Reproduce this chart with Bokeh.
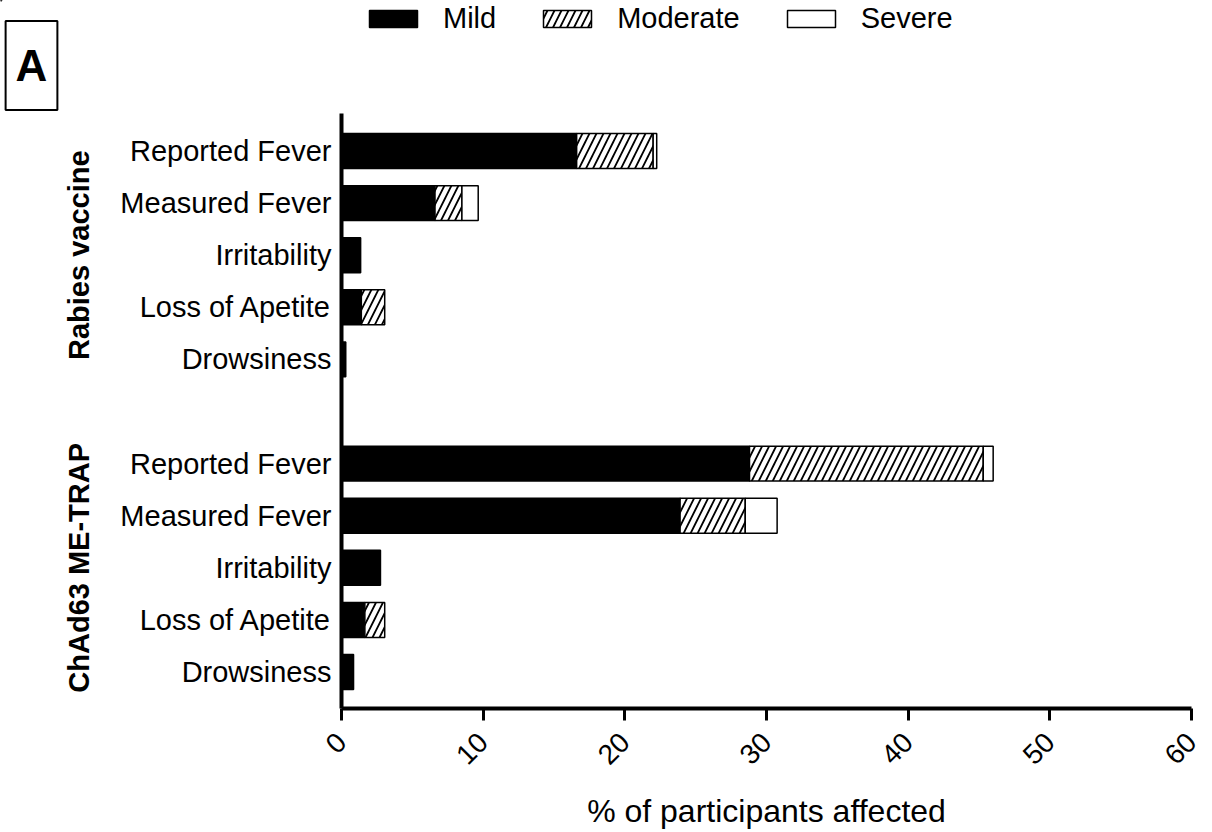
import math

from bokeh.plotting import figure
from bokeh.layouts import column
from bokeh.models import (ColumnDataSource, Range1d, FixedTicker, Legend,
                          LegendItem, LinearAxis, Label)
from bokeh.embed import file_html
from bokeh.resources import INLINE

# Solicited adverse events, % of participants affected, by severity
symptoms = ["Reported Fever", "Measured Fever", "Irritability",
            "Loss of Apetite", "Drowsiness"]
groups = ["Rabies vaccine", "ChAd63 ME-TRAP"]

rabies_mild = [16.6, 6.6, 1.35, 1.4, 0.3]
rabies_moderate = [5.4, 1.9, 0.0, 1.65, 0.0]
rabies_severe = [0.25, 1.15, 0.0, 0.0, 0.0]

chad_mild = [28.8, 23.9, 2.75, 1.65, 0.85]
chad_moderate = [16.5, 4.6, 0.0, 1.4, 0.0]
chad_severe = [0.7, 2.25, 0.0, 0.0, 0.0]

severity_names = ["Mild", "Moderate", "Severe"]
x_ticks = [0, 10, 20, 30, 40, 50, 60]
x_title = "% of participants affected"
panel_letter = "A"

FONT = "Liberation Sans"
W, H, HEADER_H = 1212, 832, 113

# bar styles per severity level
STYLES = {
    "Mild": dict(fill_color="black", line_color="black", line_width=1.5),
    "Moderate": dict(fill_color="white", hatch_pattern="/", hatch_color="black",
                     hatch_weight=1.8, hatch_scale=14, line_color="black",
                     line_width=1.5),
    "Severe": dict(fill_color="white", line_color="black", line_width=1.5),
}

# rows top to bottom: rabies 0-4, an empty row, ChAd63 6-10
rows_rabies = [0, 1, 2, 3, 4]
rows_chad = [6, 7, 8, 9, 10]


def stacked_sources():
    """One source per severity level holding the left/right edges of each
    non-empty segment of the stacked bars."""
    data = {name: dict(y=[], left=[], right=[]) for name in severity_names}
    blocks = [
        (rows_rabies, [rabies_mild, rabies_moderate, rabies_severe]),
        (rows_chad, [chad_mild, chad_moderate, chad_severe]),
    ]
    for rows, series in blocks:
        for i, row in enumerate(rows):
            start = 0.0
            for name, values in zip(severity_names, series):
                v = values[i]
                if v > 0:
                    data[name]["y"].append(row)
                    data[name]["left"].append(start)
                    data[name]["right"].append(start + v)
                start += v
    return {k: ColumnDataSource(v) for k, v in data.items()}


# ---- header strip: panel letter and severity legend ----
head = figure(width=W, height=HEADER_H, output_backend="svg",
              toolbar_location=None, x_axis_location=None, y_axis_location=None,
              x_range=Range1d(0, W), y_range=Range1d(HEADER_H, 0),
              min_border_left=0, min_border_right=0, min_border_top=0,
              min_border_bottom=0, frame_align=False)
head.outline_line_color = None
head.xgrid.grid_line_color = None
head.ygrid.grid_line_color = None

head.add_layout(Label(x=31, y=65, text=panel_letter, text_align="center",
                      text_baseline="middle", text_font=FONT,
                      text_font_size="44px", text_font_style="bold",
                      text_color="black", border_line_color="black",
                      border_line_width=2, background_fill_color="white",
                      padding=(10, 20)))

# legend keys: one bar per style, parked above the strip so only the
# legend swatches show
key_renderers = [head.hbar(y=[-100], left=[0], right=[1], height=1,
                           **STYLES[n]) for n in severity_names]
legend = Legend(items=[LegendItem(label=n, renderers=[r])
                       for n, r in zip(severity_names, key_renderers)],
                orientation="horizontal", location=(363, 78),
                glyph_width=60, glyph_height=21, label_standoff=20,
                spacing=41, padding=0, margin=0,
                label_text_font=FONT, label_text_font_size="29px",
                label_text_color="black",
                border_line_color=None, background_fill_alpha=0)
head.add_layout(legend)

# ---- main chart ----
sources = stacked_sources()

p = figure(width=W, height=H - HEADER_H, output_backend="svg",
           toolbar_location=None,
           x_range=Range1d(0, 60), y_range=Range1d(10.70, -0.72),
           min_border_left=341, min_border_right=21,
           min_border_top=0, min_border_bottom=124, frame_align=False)
p.outline_line_color = None
p.xgrid.grid_line_color = None
p.ygrid.grid_line_color = None

bar_h = 0.67
for name in severity_names:
    p.hbar(y="y", left="left", right="right", height=bar_h,
           source=sources[name], **STYLES[name])

# x axis
xa = p.xaxis[0]
xa.ticker = FixedTicker(ticks=x_ticks, minor_ticks=[])
xa.axis_line_width = 4
xa.major_tick_line_width = 3
xa.major_tick_out = 12
xa.major_tick_in = 0
xa.minor_tick_line_color = None
xa.major_label_orientation = math.pi / 4
xa.major_label_text_font = FONT
xa.major_label_text_font_size = "28px"
xa.major_label_text_color = "black"
xa.major_label_standoff = 17
xa.axis_label = x_title
xa.axis_label_text_font = FONT
xa.axis_label_text_font_size = "32px"
xa.axis_label_text_font_style = "normal"
xa.axis_label_text_color = "black"
xa.axis_label_standoff = 17

# y axis with symptom names
ya = p.yaxis[0]
y_rows = rows_rabies + rows_chad
ya.ticker = FixedTicker(ticks=y_rows, minor_ticks=[])
ya.major_label_overrides = {r: s for r, s in zip(y_rows, symptoms + symptoms)}
ya.axis_line_width = 4
ya.major_tick_line_color = None
ya.minor_tick_line_color = None
ya.major_tick_out = 0
ya.major_tick_in = 0
ya.major_label_standoff = 10
ya.major_label_text_font = FONT
ya.major_label_text_font_size = "29px"
ya.major_label_text_color = "black"

# outer axis carrying the group names, centred on each block of rows
ga = LinearAxis(ticker=FixedTicker(ticks=[rows_rabies[2], rows_chad[2]],
                                   minor_ticks=[]))
ga.major_label_overrides = {rows_rabies[2]: groups[0], rows_chad[2]: groups[1]}
ga.major_label_orientation = "parallel"
ga.axis_line_color = None
ga.major_tick_line_color = None
ga.minor_tick_line_color = None
ga.major_tick_out = 0
ga.major_tick_in = 0
ga.major_label_standoff = 22
ga.major_label_text_font = FONT
ga.major_label_text_font_size = "29px"
ga.major_label_text_font_style = "bold"
ga.major_label_text_color = "black"
p.add_layout(ga, "left")

page = column(head, p, spacing=0)
open("out.html", "w").write(file_html(page, INLINE))
